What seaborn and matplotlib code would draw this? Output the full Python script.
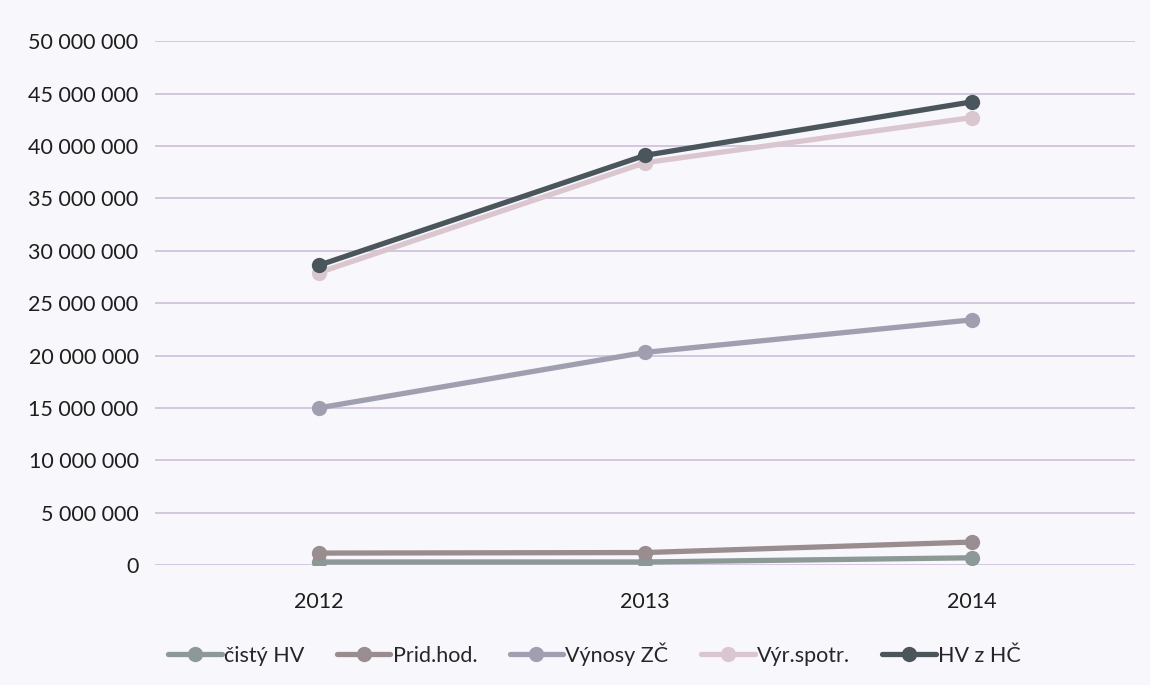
import matplotlib
matplotlib.use("Agg")
import matplotlib.pyplot as plt
from matplotlib.lines import Line2D
import seaborn as sns
import pandas as pd

years = ["2012", "2013", "2014"]
series_names = ["čistý HV", "Prid.hod.", "Výnosy ZČ", "Výr.spotr.", "HV z HČ"]
cisty_hv = [300000, 300000, 700000]
prid_hod = [1150000, 1200000, 2200000]
vynosy_zc = [15000000, 20300000, 23400000]
vyr_spotr = [27900000, 38400000, 42700000]
hv_z_hc = [28600000, 39100000, 44200000]
y_ticks = [0, 5000000, 10000000, 15000000, 20000000, 25000000,
           30000000, 35000000, 40000000, 45000000, 50000000]

colors = ["#8c9996", "#9a8d90", "#a09fb0", "#d9c6ce", "#4a555c"]

values = [cisty_hv, prid_hod, vynosy_zc, vyr_spotr, hv_z_hc]
rows = []
for name, vals in zip(series_names, values):
    for i, (yr, v) in enumerate(zip(years, vals)):
        rows.append({"pos": i, "year": yr, "series": name, "value": v})
df = pd.DataFrame(rows)

sns.set_theme(style="white")
plt.rcParams["font.family"] = ["Lato", "DejaVu Sans"]

fig = plt.figure(figsize=(11.5, 6.85), dpi=100)
fig.patch.set_facecolor("#f8f7fb")
ax = fig.add_axes([0.135, 0.175, 0.852, 0.765])
ax.set_facecolor("#f8f7fb")

palette = dict(zip(series_names, colors))
sns.lineplot(data=df, x="pos", y="value", hue="series", hue_order=series_names,
             palette=palette, marker="o", markersize=11, linewidth=3.8,
             markeredgewidth=0, ax=ax, legend=False, sort=False)

ax.set_xlim(-0.5, 2.5)
ax.set_ylim(0, 50000000)
ax.set_xticks(range(len(years)))
ax.set_xticklabels(years, fontsize=15.5, color="#1e1e1e")
ax.set_yticks(y_ticks)
ax.set_yticklabels([f"{v:,}".replace(",", " ") for v in y_ticks], fontsize=15.5, color="#1e1e1e")
ax.tick_params(axis="both", length=0)
ax.tick_params(axis="y", pad=12)
ax.tick_params(axis="x", pad=19)
ax.set_xlabel("")
ax.set_ylabel("")
ax.grid(axis="y", color="#cdbfdc", linewidth=1.2)
ax.set_axisbelow(True)
for s in ax.spines.values():
    s.set_visible(False)

handles = [Line2D([0], [0], color=c, linewidth=3.8, marker="o", markersize=11,
                  markeredgewidth=0) for c in colors]
fig.legend(handles, series_names, loc="center", bbox_to_anchor=(0.517, 0.045),
           ncol=5, frameon=False, fontsize=15.5, handlelength=2.5,
           handletextpad=0.1, columnspacing=1.5)

fig.savefig("out.png", dpi=100, facecolor=fig.get_facecolor())
